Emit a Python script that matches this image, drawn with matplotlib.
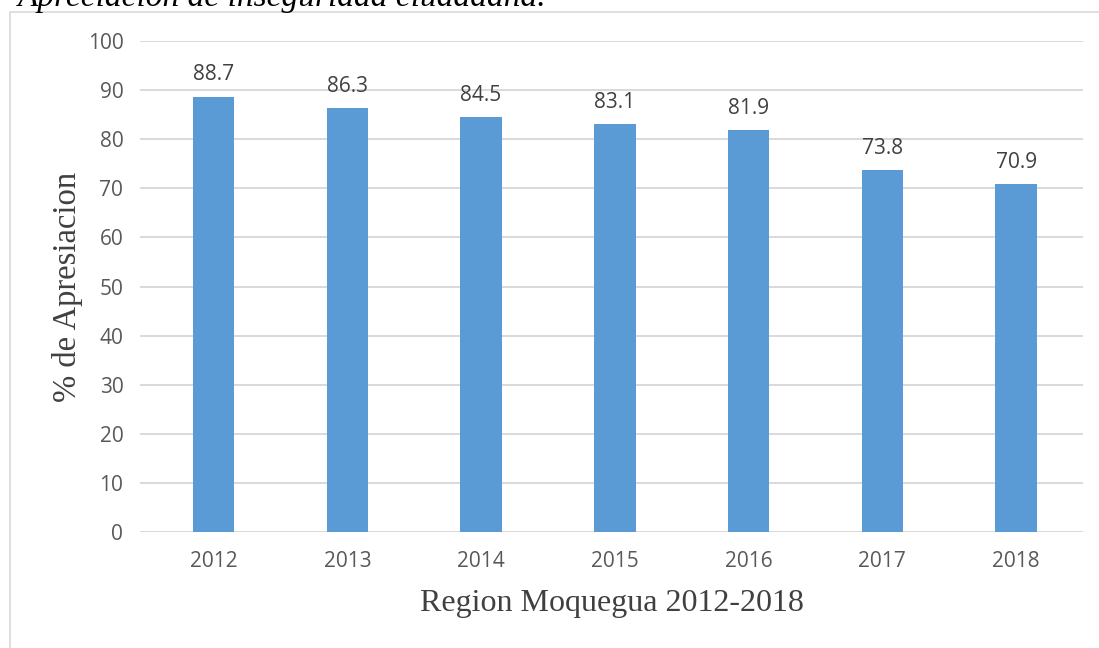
import matplotlib
matplotlib.use("Agg")
from matplotlib import pyplot as plt
from matplotlib.patches import Rectangle

years = ['2012', '2013', '2014', '2015', '2016', '2017', '2018']
values = [88.7, 86.3, 84.5, 83.1, 81.9, 73.8, 70.9]
y_ticks = [0, 10, 20, 30, 40, 50, 60, 70, 80, 90, 100]

fig = plt.figure(figsize=(10.99, 6.48), dpi=100)
ax = fig.add_axes([0.1274, 0.179, 0.858, 0.7577])

x = range(len(years))
bars = ax.bar(x, values, width=0.31, color='#5b9bd5', zorder=3)
for b, v in zip(bars, values):
    ax.annotate(f'{v}', (b.get_x() + b.get_width() / 2, v), xytext=(0, 8),
                textcoords='offset points', ha='center', va='bottom',
                fontsize=15, color='#404040', family='Open Sans')

ax.set_xlim(-0.55, 6.5)
ax.set_ylim(0, 100)
ax.set_yticks(y_ticks)
ax.set_xticks(list(x))
ax.set_xticklabels(years)
ax.grid(axis='y', color='#d9d9d9', linewidth=1.4, zorder=0)
for s in ax.spines.values():
    s.set_visible(False)
ax.tick_params(length=0, labelsize=15, colors='#595959', pad=12)
for lab in ax.get_xticklabels() + ax.get_yticklabels():
    lab.set_family('Open Sans')
ax.tick_params(axis='x', pad=14)

ax.set_ylabel('% de Apresiacion', family='Liberation Serif', fontsize=23.5,
              color='#404040', labelpad=3)
ax.set_xlabel('Region Moquegua 2012-2018', family='Liberation Serif',
              fontsize=23, color='#404040', labelpad=12)

# outer chart frame
fig.patches.append(Rectangle((10 / 1099, -0.01), 1.1, (648 - 12) / 648 + 0.01,
                             transform=fig.transFigure, fill=False,
                             edgecolor='#d9d9d9', linewidth=1.2))

# cropped caption above the chart
fig.text(18 / 1099, 1 - 6 / 648, 'Apreciación de inseguridad ciudadana.',
         family='Liberation Serif', style='italic', fontsize=24,
         color='black', va='baseline')

fig.savefig('out.png', dpi=100)
